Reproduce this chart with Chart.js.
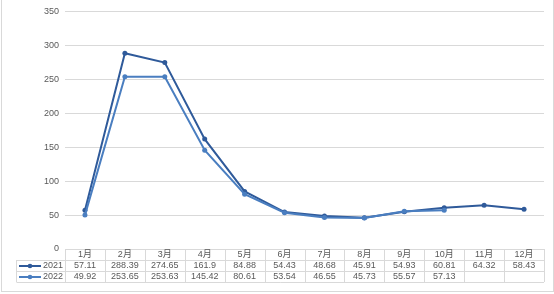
<!DOCTYPE html>
<html><head><meta charset="utf-8">
<script src="https://cdn.jsdelivr.net/npm/chart.js@4"></script>
<style>html,body{margin:0;padding:0;background:#fff}#c{display:block}</style>
</head><body>
<div style="width:554px;height:294px"><canvas id="c" width="554" height="294"></canvas></div>
<script>
const categories = ['1月','2月','3月','4月','5月','6月','7月','8月','9月','10月','11月','12月'];
const series2021 = [57.11, 288.39, 274.65, 161.9, 84.88, 54.43, 48.68, 45.91, 54.93, 60.81, 64.32, 58.43];
const series2022 = [49.92, 253.65, 253.63, 145.42, 80.61, 53.54, 46.55, 45.73, 55.57, 57.13, null, null];
const seriesNames = ['2021', '2022'];
const colors = ['#2F5A9A', '#4A7EC0'];
const FONT = '"Liberation Sans", Arial, "Noto Sans CJK SC", sans-serif';

const tablePlugin = {
  id: 'dataTable',
  afterDraw(chart) {
    const ctx = chart.ctx;
    const x = chart.scales.x;
    const area = chart.chartArea;
    const left = area.left, right = area.right;
    const colW = (right - left) / categories.length;
    const top = area.bottom;
    const rowH = 11;
    const legL = 16.5;
    ctx.save();
    // outer frame
    ctx.strokeStyle = '#D9D9D9';
    ctx.lineWidth = 1;
    ctx.strokeRect(1.5, -1, 552, 292.5);
    // table lines
    ctx.strokeStyle = '#D9D9D9';
    ctx.beginPath();
    ctx.moveTo(left, top + 0.5); ctx.lineTo(right, top + 0.5);
    for (let r = 1; r <= 3; r++) {
      const yy = Math.round(top + r * rowH) + 0.5;
      ctx.moveTo(legL, yy); ctx.lineTo(right, yy);
    }
    for (let i = 0; i <= categories.length; i++) {
      const xx = Math.round(left + i * colW) + 0.5;
      ctx.moveTo(xx, top); ctx.lineTo(xx, top + 3 * rowH);
    }
    ctx.moveTo(legL, top + rowH); ctx.lineTo(legL, top + 3 * rowH);
    ctx.stroke();
    // text
    ctx.fillStyle = '#595959';
    ctx.font = '9px ' + FONT;
    ctx.textAlign = 'center';
    ctx.textBaseline = 'middle';
    categories.forEach((c, i) => {
      const cx = x.getPixelForValue(i);
      ctx.fillText(c, cx, top + rowH * 0.5 + 0.5);
      const v1 = series2021[i], v2 = series2022[i];
      if (v1 != null) ctx.fillText(String(v1), cx, top + rowH * 1.5 + 0.5);
      if (v2 != null) ctx.fillText(String(v2), cx, top + rowH * 2.5 + 0.5);
    });
    // legend keys
    seriesNames.forEach((n, k) => {
      const yy = top + rowH * (1.5 + k) + 0.5;
      ctx.strokeStyle = colors[k];
      ctx.lineWidth = 2;
      ctx.beginPath(); ctx.moveTo(19, yy); ctx.lineTo(41, yy); ctx.stroke();
      ctx.fillStyle = colors[k];
      ctx.beginPath(); ctx.arc(30, yy, 2.3, 0, Math.PI * 2); ctx.fill();
      ctx.fillStyle = '#595959';
      ctx.textAlign = 'left';
      ctx.fillText(n, 43, yy);
    });
    ctx.textAlign = 'right';
    ctx.restore();
  }
};

new Chart(document.getElementById('c'), {
  type: 'line',
  data: {
    labels: categories,
    datasets: [
      { label: seriesNames[0], data: series2021, borderColor: colors[0], backgroundColor: colors[0], borderWidth: 2, pointRadius: 2.5, pointBorderWidth: 0, order: 1, tension: 0 },
      { label: seriesNames[1], data: series2022, borderColor: colors[1], backgroundColor: colors[1], borderWidth: 2, pointRadius: 2.5, pointBorderWidth: 0, order: 0, tension: 0 }
    ]
  },
  options: {
    responsive: false,
    animation: false,
    layout: { padding: { left: 0, right: 10, top: 10, bottom: 45 } },
    plugins: { legend: { display: false }, tooltip: { enabled: false } },
    scales: {
      x: { display: false, offset: true },
      y: {
        min: 0, max: 350,
        ticks: { stepSize: 50, color: '#595959', font: { size: 9, family: FONT }, padding: 6 },
        grid: { color: ctx => ctx.tick && ctx.tick.value === 0 ? 'rgba(0,0,0,0)' : '#D9D9D9', drawTicks: false, lineWidth: 1 },
        border: { display: false },
        afterFit(s) { s.width = 65; }
      }
    }
  },
  plugins: [tablePlugin]
});
</script>
</body></html>
